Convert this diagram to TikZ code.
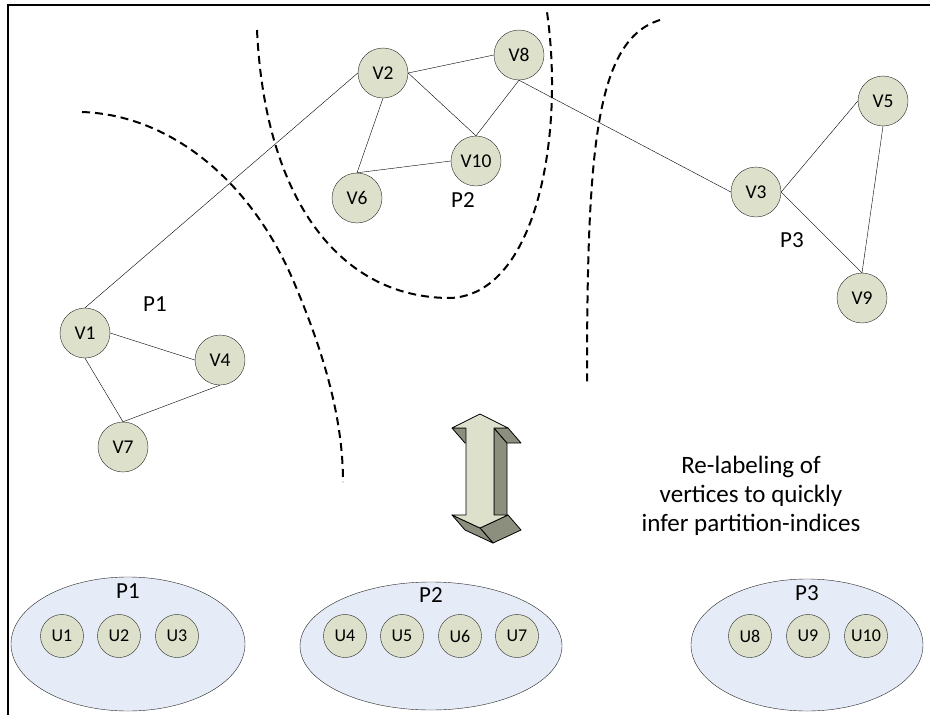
\documentclass[tikz,border=0pt]{standalone}
\usepackage{fontspec}
\setmainfont{Carlito}
\usepackage{xcolor}
\usepackage{tikz}
\usetikzlibrary{shapes.geometric}

\definecolor{nodefill}{RGB}{221,224,203}
\definecolor{partfill}{RGB}{230,236,247}
\definecolor{sideface}{RGB}{140,142,126}

\begin{document}
\begin{tikzpicture}[x=1pt,y=-1pt,
  vnode/.style={circle,draw=black!85,fill=nodefill,minimum size=50pt,inner sep=0pt,font=\fontsize{19.5}{22}\selectfont},
  unode/.style={circle,draw=black!85,fill=nodefill,minimum size=43pt,inner sep=0pt,font=\fontsize{18}{21}\selectfont},
  part/.style={ellipse,draw=black!85,fill=partfill,inner sep=0pt},
  plabel/.style={font=\fontsize{23}{27}\selectfont},
  cut/.style={line width=2pt,dash pattern=on 8pt off 5pt},
  face/.style={draw=black,line width=0.8pt,line join=round}]
\useasboundingbox (0,0) rectangle (930,715);
\draw[line width=2.5pt] (8,715) -- (8,5) -- (930,5);

% cuts between the partitions
\draw[cut] (82,112) .. controls (170,115) and (250,180) .. (293,280)
  .. controls (325,355) and (343,420) .. (343,482);
\draw[cut] (257,30) .. controls (265,200) and (340,298) .. (450,298)
  .. controls (535,295) and (565,140) .. (547,12);
\draw[cut] (660,20) .. controls (595,40) and (587,150) .. (587,385);

% graph
\node[vnode] (v1) at (85,333) {V1};
\node[vnode] (v4) at (220,360) {V4};
\node[vnode] (v7) at (123,447) {V7};
\node[vnode] (v2) at (383,73) {V2};
\node[vnode] (v8) at (519,55) {V8};
\node[vnode] (v10) at (476,161) {V10};
\node[vnode] (v6) at (357,198) {V6};
\node[vnode] (v3) at (756,192) {V3};
\node[vnode] (v5) at (883,101) {V5};
\node[vnode] (v9) at (862,298) {V9};

\foreach \a/\b in {v1.north/v2.west,v1.east/v4.west,v1.south/v7.north,v7.north/v4.south,
  v2.east/v8.west,v2.south/v6.north,v2.east/v10.north,v6.north/v10.west,v8.south/v10.north,
  v8.south/v3.west,v3.east/v5.west,v3.east/v9.north,v5.south/v9.north}
\draw (\a) -- (\b);

\node[plabel] (p1) at (155,304) {P1};
\node[plabel] (p2) at (463,200) {P2};
\node[plabel] (p3) at (792,240) {P3};

% 3d double arrow
\filldraw[face,fill=sideface] (494,428) -- (494,515) -- (507,530) -- (507,443) -- cycle;
\filldraw[face,fill=sideface] (508,428) -- (494,428) -- (507,443) -- (521,443) -- cycle;
\filldraw[face,fill=sideface] (466,428) -- (452,428) -- (465,443) -- (479,443) -- cycle;
\filldraw[face,fill=sideface] (508,515) -- (480,528) -- (493,543) -- (521,530) -- cycle;
\filldraw[face,fill=sideface] (480,528) -- (452,515) -- (465,530) -- (493,543) -- cycle;
\filldraw[face,fill=nodefill] (480,414) -- (508,428) -- (494,428) -- (494,515) -- (508,515)
  -- (480,528) -- (452,515) -- (466,515) -- (466,428) -- (452,428) -- cycle;

\node[align=center,font=\fontsize{25}{29}\selectfont] (note) at (751,496)
  {Re-labeling of\\vertices to quickly\\infer partition-indices};

% relabeled partitions
\node[part,minimum width=234pt,minimum height=134pt] (q1) at (128,644) {};
\node[part,minimum width=262pt,minimum height=128pt] (q2) at (431,646) {};
\node[part,minimum width=232pt,minimum height=132pt] (q3) at (807,645) {};
\node[plabel] (q1lab) at (128,591) {P1};
\node[plabel] (q2lab) at (431,595) {P2};
\node[plabel] (q3lab) at (807,593) {P3};

\foreach \i/\x in {1/62,2/119,3/177,4/345,5/402,6/460,7/517,8/750,9/808,10/866}
\node[unode] (u\i) at (\x,636) {U\i};
\end{tikzpicture}
\end{document}
